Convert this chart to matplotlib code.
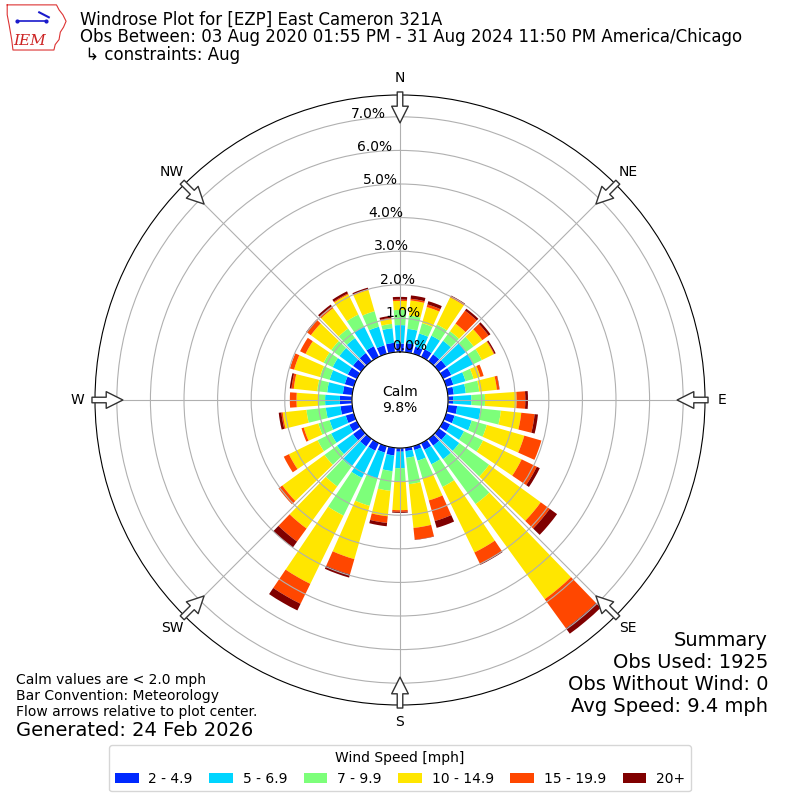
import numpy as np
import matplotlib
matplotlib.use('Agg')
import matplotlib.pyplot as plt

# direction bins (deg, meteorological: where the wind comes from)
directions = np.arange(0, 360, 10)

# percent of observations per direction for each speed bin
spd_2_5 = [0.25, 0.27, 0.22, 0.25, 0.25, 0.27, 0.27, 0.22, 0.18, 0.15, 0.28, 0.26,
           0.23, 0.28, 0.25, 0.22, 0.12, 0.10, 0.11, 0.23, 0.20, 0.25, 0.28, 0.30,
           0.25, 0.25, 0.35, 0.36, 0.28, 0.28, 0.30, 0.30, 0.30, 0.35, 0.26, 0.28]
spd_5_7 = [0.55, 0.43, 0.41, 0.45, 0.50, 0.73, 0.73, 0.38, 0.36, 0.55, 0.70, 0.53,
           0.46, 0.47, 0.50, 0.48, 0.33, 0.20, 0.49, 0.47, 0.80, 0.90, 0.75, 0.59,
           0.60, 0.50, 0.44, 0.44, 0.47, 0.47, 0.50, 0.50, 0.55, 0.65, 0.58, 0.44]
spd_7_10 = [0.45, 0.40, 0.32, 0.37, 0.35, 0.28, 0.28, 0.25, 0.40, 0.40, 0.61, 0.47,
            0.63, 1.10, 1.65, 0.75, 0.55, 0.79, 0.40, 0.59, 0.85, 1.25, 0.72, 0.46,
            0.45, 0.35, 0.58, 0.20, 0.30, 0.30, 0.30, 0.30, 0.35, 0.40, 0.48, 0.13]
spd_10_15 = [0.27, 0.45, 0.50, 0.90, 0.28, 0.32, 0.40, 0.21, 0.53, 0.94, 0.61, 1.16,
             1.28, 1.90, 3.50, 2.17, 0.68, 1.31, 0.85, 0.76, 1.65, 2.26, 1.55, 1.55,
             0.95, 0.45, 0.71, 0.65, 0.70, 0.80, 0.60, 0.75, 0.75, 0.67, 0.66, 0.15]
spd_15_20 = [0.04, 0.05, 0.08, 0.04, 0.48, 0.23, 0.02, 0.10, 0.07, 0.26, 0.40, 0.53,
             0.50, 0.33, 1.07, 0.38, 0.64, 0.35, 0.05, 0.20, 0.47, 0.66, 0.48, 0.14,
             0.17, 0.07, 0.04, 0.20, 0.07, 0.13, 0.18, 0.15, 0.07, 0.03, 0.02, 0.03]
spd_20p = [0.08, 0.10, 0.10, 0.02, 0.07, 0.07, 0.04, 0.00, 0.01, 0.08, 0.10, 0.00,
           0.10, 0.27, 0.20, 0.03, 0.21, 0.01, 0.03, 0.10, 0.10, 0.22, 0.22, 0.00,
           0.00, 0.00, 0.08, 0.00, 0.05, 0.00, 0.00, 0.02, 0.06, 0.07, 0.05, 0.06]

bin_labels = ['2 - 4.9', '5 - 6.9', '7 - 9.9', '10 - 14.9', '15 - 19.9', '20+']
calm_pct = 9.8
rticks = [0, 1, 2, 3, 4, 5, 6, 7]
compass = ['N', 'NE', 'E', 'SE', 'S', 'SW', 'W', 'NW']

title = 'Windrose Plot for [EZP] East Cameron 321A'
subtitle = 'Obs Between: 03 Aug 2020 01:55 PM - 31 Aug 2024 11:50 PM America/Chicago'
constraint = ' \u21b3 constraints: Aug'
notes = ['Calm values are < 2.0 mph', 'Bar Convention: Meteorology',
         'Flow arrows relative to plot center.']
generated = 'Generated: 24 Feb 2026'
summary = ['Summary', 'Obs Used: 1925', 'Obs Without Wind: 0', 'Avg Speed: 9.4 mph']

series = [spd_2_5, spd_5_7, spd_7_10, spd_10_15, spd_15_20, spd_20p]
cmap = plt.get_cmap('jet')
colors = [cmap(v) for v in np.linspace(0, 1, 7)[1:]]

fig = plt.figure(figsize=(8, 8), dpi=100)
ax = fig.add_axes([0.11875, 0.11875, 0.7625, 0.7625], projection='polar')
ax.set_theta_zero_location('N')
ax.set_theta_direction(-1)

theta = np.radians(directions)
width = np.radians(8.0)
base = np.zeros(len(directions))
for vals, col, lab in zip(series, colors, bin_labels):
    vals = np.array(vals)
    ax.bar(theta, vals, width=width, bottom=base, color=col, label=lab,
           linewidth=0, zorder=1)
    base = base + vals

ax.set_rorigin(-1.43)
ax.set_ylim(0, 7.65)
ax.set_rticks(rticks)
ax.set_yticklabels(['%.1f%%' % t for t in rticks], fontsize=10)
ax.set_rlabel_position(-10)
ax.set_thetagrids(np.arange(0, 360, 45), compass, fontsize=10)
ax.tick_params(axis='x', pad=2)

# hollow flow arrows around the edge
for ang in np.arange(0, 360, 45):
    ax.annotate('', xy=(np.radians(ang), 6.82), xytext=(np.radians(ang), 7.74),
                arrowprops=dict(arrowstyle='simple,head_length=12,head_width=12,tail_width=4',
                                mutation_scale=1, fc='white', ec='#333333', lw=1,
                                shrinkA=0, shrinkB=0),
                annotation_clip=False, zorder=5)

ax.text(0.5, 0.5, 'Calm\n%.1f%%' % calm_pct, transform=ax.transAxes,
        ha='center', va='center', fontsize=10)

# header
fig.text(0.1, 1 - 20 / 800, title, fontsize=12, va='center')
fig.text(0.1, 1 - 37.5 / 800, subtitle, fontsize=12, va='center')
fig.text(0.1, 1 - 55 / 800, constraint, fontsize=12, va='center')

# rough IEM logo
lax = fig.add_axes([0.005, 0.935, 0.08, 0.062])
lax.axis('off')
lax.set_xlim(0, 1)
lax.set_ylim(0, 1)
iowa_x = [0.05, 0.82, 0.86, 0.92, 0.97, 0.93, 0.88, 0.86, 0.80, 0.78, 0.14, 0.12, 0.08, 0.05, 0.05]
iowa_y = [0.95, 0.95, 0.85, 0.75, 0.62, 0.50, 0.40, 0.25, 0.15, 0.04, 0.04, 0.25, 0.55, 0.75, 0.95]
lax.plot(iowa_x, iowa_y, color='#dd3333', lw=0.8)
lax.plot([0.2, 0.65], [0.62, 0.62], color='#1a1acc', lw=1.2)
lax.plot([0.2, 0.65], [0.62, 0.62], 'o', color='#1a1acc', ms=2)
lax.plot([0.55, 0.7], [0.8, 0.7], color='#1a1acc', lw=1.5)
lax.text(0.15, 0.22, 'IEM', color='#cc2222', fontsize=11, family='DejaVu Serif',
         style='italic', va='center')

# footer notes
for i, line in enumerate(notes):
    fig.text(0.02, 1 - (680 + 16 * i) / 800, line, fontsize=10, va='center')
fig.text(0.02, 1 - 730 / 800, generated, fontsize=14, va='center')
for i, line in enumerate(summary):
    fig.text(0.96, 1 - (640 + 22 * i) / 800, line, fontsize=14, va='center', ha='right')

handles, labels = ax.get_legend_handles_labels()
fig.legend(handles, labels, loc='lower center', bbox_to_anchor=(0.5, 0.002), ncol=6,
           title='Wind Speed [mph]', fontsize=10, title_fontsize=10,
           handlelength=1.7, handletextpad=0.7, columnspacing=1.2)

fig.savefig('out.png', dpi=100)
